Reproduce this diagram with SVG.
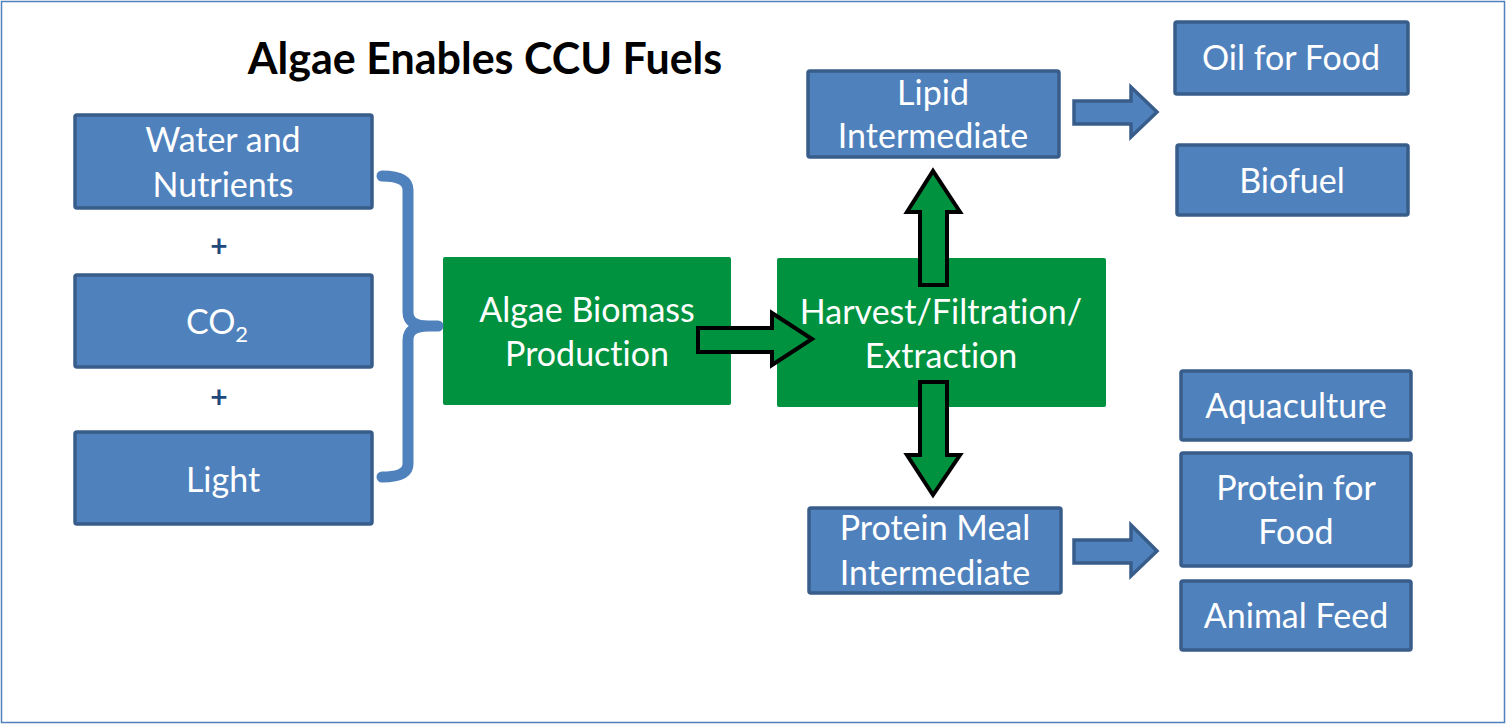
<svg xmlns="http://www.w3.org/2000/svg" width="1507" height="725" viewBox="0 0 1507 725">
<style>
.bx{fill:#4F81BD;stroke:#385D8A;stroke-width:3.5}
.gb{fill:#00923F}
.t{font-family:Lato,"Open Sans",sans-serif;font-size:34px;fill:#FFFFFF;text-anchor:middle;font-variant-ligatures:none}
.plus{font-family:Lato,sans-serif;font-size:30px;font-weight:bold;fill:#1F497D;text-anchor:middle}
.ga{fill:#00923F;stroke:#000000;stroke-width:4;stroke-linejoin:miter}
.ba{fill:#4F81BD;stroke:#385D8A;stroke-width:3.5}
</style>
<rect x="1.5" y="1.5" width="1503" height="721" fill="#FFFFFF" stroke="#4F81BD" stroke-width="1.5"/>
<text x="485" y="74" font-family="Lato,sans-serif" font-size="43" font-weight="bold" fill="#000000" text-anchor="middle">Algae Enables CCU Fuels</text>

<g id="water"><rect class="bx" x="75" y="115" width="297" height="93" rx="2"/><text class="t" x="223" y="152">Water and</text><text class="t" x="223" y="197">Nutrients</text></g>
<text class="plus" x="219" y="257">+</text>
<g id="co2"><rect class="bx" x="75" y="275" width="297" height="92" rx="2"/><text class="t" x="217" y="334">CO<tspan font-size="22" dy="8">2</tspan></text></g>
<text class="plus" x="219" y="408">+</text>
<g id="light"><rect class="bx" x="75" y="432" width="297" height="92" rx="2"/><text class="t" x="223" y="492">Light</text></g>

<g id="algae"><rect class="gb" x="443" y="257" width="288" height="148" rx="2"/><text class="t" x="587" y="322">Algae Biomass</text><text class="t" x="587" y="366">Production</text></g>
<g id="harvest"><rect class="gb" x="777" y="258" width="329" height="149" rx="2"/><text class="t" x="941" y="324">Harvest/Filtration/</text><text class="t" x="941" y="368">Extraction</text></g>

<g id="lipid"><rect class="bx" x="808" y="71" width="251" height="86" rx="2"/><text class="t" x="933" y="105">Lipid</text><text class="t" x="933" y="148">Intermediate</text></g>
<g id="oil"><rect class="bx" x="1175" y="22" width="233" height="72" rx="2"/><text class="t" x="1291" y="70">Oil for Food</text></g>
<g id="biofuel"><rect class="bx" x="1177" y="145" width="231" height="70" rx="2"/><text class="t" x="1292" y="193">Biofuel</text></g>

<g id="protein-meal"><rect class="bx" x="809" y="508" width="252" height="85" rx="2"/><text class="t" x="935" y="540">Protein Meal</text><text class="t" x="935" y="585">Intermediate</text></g>
<g id="aquaculture"><rect class="bx" x="1181" y="371" width="230" height="69" rx="2"/><text class="t" x="1296" y="418">Aquaculture</text></g>
<g id="protein-food"><rect class="bx" x="1181" y="453" width="230" height="113" rx="2"/><text class="t" x="1296" y="500">Protein for</text><text class="t" x="1296" y="544">Food</text></g>
<g id="animal-feed"><rect class="bx" x="1181" y="581" width="230" height="69" rx="2"/><text class="t" x="1296" y="628">Animal Feed</text></g>

<g id="connectors">
<path d="M382 176 Q408 176 408 190 L408 312 Q408 326 428 326 L438 326 M428 326 Q408 326 408 340 L408 464 Q408 477 382 477" fill="none" stroke="#4F81BD" stroke-width="11" stroke-linecap="round"/>
<path class="ga" d="M698 328 L772 328 L772 313 L812 339 L772 365 L772 352 L698 352 Z"/>
<path class="ga" d="M920 285 L920 212 L907 212 L933 171 L960 212 L947 212 L947 285 Z"/>
<path class="ga" d="M920 382 L920 455 L907 455 L933 495 L960 455 L947 455 L947 382 Z"/>
<path class="ba" d="M1074 101 L1131 101 L1131 87 L1157 112 L1131 137 L1131 124 L1074 124 Z"/>
<path class="ba" d="M1074 540 L1131 540 L1131 525 L1157 551 L1131 576 L1131 563 L1074 563 Z"/>
</g>
</svg>
